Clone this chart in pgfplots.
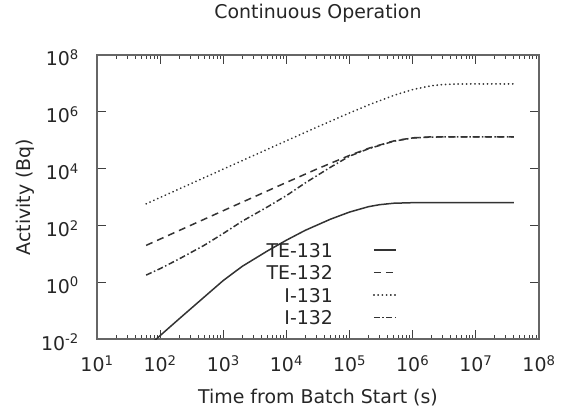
\documentclass[border=0pt]{standalone}
\usepackage{fontspec}
\setmainfont{DejaVu Sans}
\usepackage{pgfplots}
\pgfplotsset{compat=1.18}
\newcommand{\tp}[1]{10\textsuperscript{#1}}
\begin{document}
\fontsize{19}{22}\selectfont
\begin{tikzpicture}
\begin{axis}[
  at={(0,0)}, anchor=south west,
  scale only axis, width=442bp, height=284bp,
  xmode=log, ymode=log,
  xmin=10, xmax=1e8, ymin=1e-2, ymax=1e8,
  font=\fontsize{19}{22}\selectfont,
  xtick={1e1,1e2,1e3,1e4,1e5,1e6,1e7,1e8},
  xticklabels={\tp{1},\tp{2},\tp{3},\tp{4},\tp{5},\tp{6},\tp{7},\tp{8}},
  ytick={1e-2,1,1e2,1e4,1e6,1e8},
  yticklabels={\tp{-2},\tp{0},\tp{2},\tp{4},\tp{6},\tp{8}},
  yminorticks=false,
  tick align=inside,
  major tick length=9bp, minor tick length=4.5bp,
  every tick/.style={black!75, line width=1bp},
  axis line style={draw=black!60, line width=1.6bp},
  xticklabel style={anchor=base, inner sep=0pt, yshift=-32.7bp, text=black!85},
  yticklabel style={anchor=base east, inner sep=0pt, xshift=-18bp, yshift=-11bp, text=black!85},
  title={Continuous Operation},
  title style={at={(axis description cs:0.5,1.1268)}, anchor=center, inner sep=0pt, text=black!85},
  xlabel={Time from Batch Start (s)},
  xlabel style={at={(axis description cs:0.5,-0.2077)}, anchor=center, inner sep=0pt, text=black!85},
  ylabel={Activity (Bq)},
  ylabel style={at={(axis description cs:-0.1629,0.5)}, anchor=center, rotate=0, inner sep=0pt, text=black!85},
  legend plot pos=right,
  legend cell align=right,
  legend image code/.code={\path (0bp,0bp); \draw[#1] (40bp,0bp) -- (62bp,0bp);},
  legend style={at={(axis description cs:0.6787,0.338)}, anchor=north east,
    draw=none, fill=none, inner sep=0pt, row sep=8.5bp, column sep=0pt,
    nodes={inner sep=0pt, text height=14bp, text depth=0pt, text=black!85},
    font=\fontsize{19}{22}\selectfont},
  every axis plot/.append style={line width=1.5bp, draw=black!80},
]
% TE-131
\addplot[solid] coordinates {
(60,0.00479) (100,0.0132) (200,0.0513) (500,0.302) (1000,1.15) (2000,3.63)
(5000,12.6) (1e4,30.2) (2e4,67.6) (5e4,166) (1e5,295) (2e5,457) (3e5,537)
(5e5,603) (1e6,631) (1e7,631) (4e7,631)
};
\addlegendentry{TE-131}
% TE-132
\addplot[dash pattern=on 7bp off 5bp] coordinates {
(60,19.8) (100,33) (300,99) (1000,330) (3000,986) (1e4,3259) (3e4,9538)
(1e5,2.92e4) (2e5,5.19e4) (5e5,9.42e4) (1e6,1.212e5) (2e6,1.311e5)
(5e6,1.32e5) (1e7,1.32e5) (4e7,1.32e5)
};
\addlegendentry{TE-132}
% I-131
\addplot[line width=1.8bp, line cap=round, dash pattern=on 0.2bp off 4bp] coordinates {
(60,576) (100,960) (300,2880) (1000,9595) (3000,2.87e4) (1e4,9.55e4)
(3e4,2.84e5) (1e5,9.14e5) (2e5,1.74e6) (5e5,3.78e6) (1e6,6.07e6)
(2e6,8.30e6) (3e6,9.12e6) (5e6,9.54e6) (1e7,9.6e6) (4e7,9.6e6)
};
\addlegendentry{I-131}
% I-132
\addplot[dash pattern=on 6bp off 2.5bp on 1.5bp off 2.5bp] coordinates {
(60,1.78) (100,3.0) (200,6.6) (500,20) (1000,52) (2000,141) (5000,447)
(1e4,1122) (2e4,3162) (5e4,1.12e4) (1e5,2.75e4) (2e5,5.0e4) (5e5,9.2e4)
(1e6,1.2e5) (2e6,1.29e5) (5e6,1.32e5) (4e7,1.32e5)
};
\addlegendentry{I-132}
\end{axis}
\pgfresetboundingbox
\useasboundingbox (-97bp,-70bp) rectangle (468bp,339bp);
\end{tikzpicture}
\end{document}
